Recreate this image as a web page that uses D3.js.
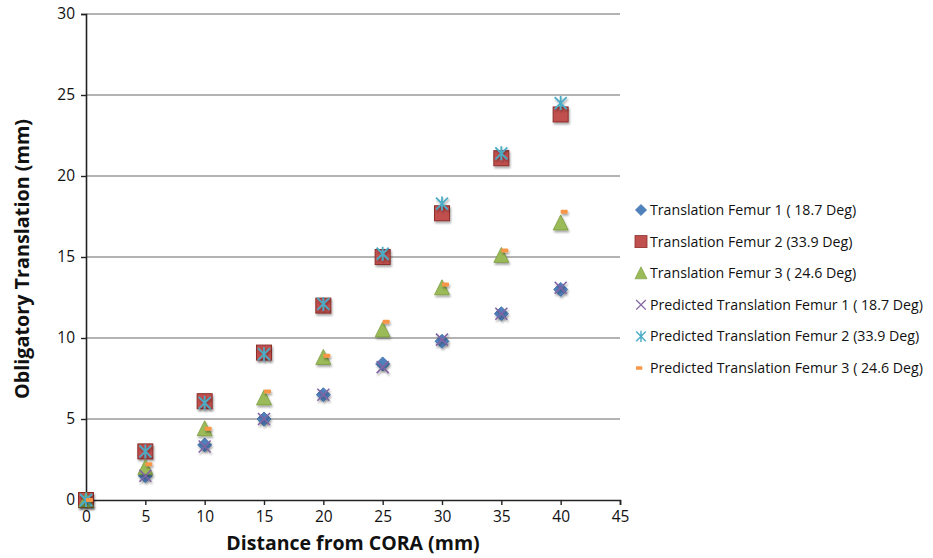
<!DOCTYPE html>
<html>
<head>
<meta charset="utf-8">
<script src="https://d3js.org/d3.v7.min.js"></script>
<style>
  body { margin: 0; background: #fff; }
  text { font-family: "Open Sans", "Liberation Sans", sans-serif; }
</style>
</head>
<body>
<svg id="vis"></svg>
<script>
  // distance from CORA (mm)
  var distances = [0, 5, 10, 15, 20, 25, 30, 35, 40];

  var femur1 = [0, 1.5, 3.4, 5.0, 6.5, 8.4, 9.8, 11.5, 13.0];
  var femur2 = [0, 3.0, 6.1, 9.1, 12.0, 15.0, 17.7, 21.1, 23.8];
  var femur3 = [0, 2.0, 4.4, 6.3, 8.8, 10.5, 13.1, 15.1, 17.1];
  var pred1 = [0, 1.5, 3.3, 5.0, 6.5, 8.2, 9.9, 11.5, 13.1];
  var pred2 = [0, 3.0, 6.0, 9.0, 12.1, 15.2, 18.3, 21.4, 24.5];
  var pred3 = [0, 2.2, 4.4, 6.7, 8.9, 11.0, 13.3, 15.4, 17.8];

  var seriesNames = [
    'Translation Femur 1 ( 18.7 Deg)',
    'Translation Femur 2 (33.9 Deg)',
    'Translation Femur 3 ( 24.6 Deg)',
    'Predicted Translation Femur 1 ( 18.7 Deg)',
    'Predicted Translation Femur 2 (33.9 Deg)',
    'Predicted Translation Femur 3 ( 24.6 Deg)'
  ];
  var seriesValues = [femur1, femur2, femur3, pred1, pred2, pred3];

  var xTicks = [0, 5, 10, 15, 20, 25, 30, 35, 40, 45];
  var yTicks = [0, 5, 10, 15, 20, 25, 30];

  var W = 933, H = 558;
  var svg = d3.select('#vis').attr('width', W).attr('height', H);

  var xScale = d3.scaleLinear().domain([0, 45]).range([86, 620]);
  var yScale = d3.scaleLinear().domain([0, 30]).range([500, 14]);

  var shadow = svg.append('defs').append('filter')
      .attr('id', 'shadow').attr('x', '-50%').attr('y', '-50%')
      .attr('width', '200%').attr('height', '200%');
  shadow.append('feDropShadow')
      .attr('dx', 1).attr('dy', 2).attr('stdDeviation', 1.2)
      .attr('flood-color', '#000').attr('flood-opacity', 0.35);

  // gridlines
  svg.append('g')
      .selectAll('line')
      .data(yTicks.filter(function(d) { return d > 0; }))
      .enter().append('line')
      .attr('x1', xScale(0)).attr('x2', xScale(45))
      .attr('y1', function(d) { return yScale(d); })
      .attr('y2', function(d) { return yScale(d); })
      .attr('stroke', '#9a9a9a').attr('stroke-width', 1.3);

  // axes
  var yAxis = svg.append('g')
      .attr('transform', 'translate(' + xScale(0) + ',0)')
      .call(d3.axisLeft(yScale).tickValues(yTicks).tickSize(5).tickPadding(6));
  var xAxis = svg.append('g')
      .attr('transform', 'translate(0,' + yScale(0) + ')')
      .call(d3.axisBottom(xScale).tickValues(xTicks).tickSize(5).tickPadding(6));

  [xAxis, yAxis].forEach(function(ax) {
    ax.select('.domain').attr('stroke', '#222').attr('stroke-width', 1.6);
    ax.selectAll('.tick line').attr('stroke', '#222').attr('stroke-width', 1.4);
    ax.selectAll('.tick text').attr('font-size', 15.5).attr('fill', '#111')
      .style('font-family', '"Open Sans", sans-serif');
  });

  // marker shapes
  var colors = ['#4f81bd', '#c0504d', '#9bbb59', '#8064a2', '#4bacc6', '#f79646'];
  var strokes = ['#3a6aa3', '#8c2f2c', '#7a9a3e', '#8064a2', '#4bacc6', '#f79646'];

  function drawMarker(g, i) {
    var c = colors[i], s = strokes[i];
    if (i === 0) {
      g.append('path').attr('d', 'M0,-7L7,0L0,7L-7,0Z')
        .attr('fill', c).attr('stroke', s).attr('stroke-width', 0.8);
    } else if (i === 1) {
      g.append('rect').attr('x', -7.5).attr('y', -7.5).attr('width', 15).attr('height', 15)
        .attr('fill', c).attr('stroke', s).attr('stroke-width', 1);
    } else if (i === 2) {
      g.append('path').attr('d', 'M0,-8L7.5,7L-7.5,7Z')
        .attr('fill', c).attr('stroke', s).attr('stroke-width', 0.8);
    } else if (i === 3) {
      g.append('path').attr('d', 'M-6,-6L6,6M-6,6L6,-6')
        .attr('stroke', c).attr('stroke-width', 1.6).attr('fill', 'none');
    } else if (i === 4) {
      g.append('path').attr('d', 'M-6,-6L6,6M-6,6L6,-6M0,-7L0,7')
        .attr('stroke', c).attr('stroke-width', 1.8).attr('fill', 'none');
    } else {
      g.append('rect').attr('x', 0).attr('y', -2).attr('width', 7).attr('height', 4)
        .attr('rx', 1).attr('fill', c);
    }
  }

  // points
  var points = svg.append('g');
  seriesValues.forEach(function(vals, i) {
    points.append('g')
      .attr('filter', 'url(#shadow)')
      .selectAll('g')
      .data(vals.map(function(v, j) { return { x: distances[j], y: v }; }))
      .enter().append('g')
      .attr('transform', function(d) { return 'translate(' + xScale(d.x) + ',' + yScale(d.y) + ')'; })
      .each(function() { drawMarker(d3.select(this), i); });
  });

  // legend
  var legend = svg.append('g').selectAll('g')
      .data(seriesNames)
      .enter().append('g')
      .attr('transform', function(d, i) { return 'translate(641,' + (210 + i * 31.6) + ')'; });
  legend.each(function(d, i) {
    var m = d3.select(this).append('g').attr('transform', i === 5 ? 'translate(-5,0) scale(0.9)' : 'scale(0.8)');
    drawMarker(m, i);
  });
  legend.append('text')
      .attr('x', 9).attr('y', 5)
      .attr('font-size', 14.2).attr('fill', '#111')
      .text(function(d) { return d; });

  // axis titles
  svg.append('text')
      .attr('x', 353).attr('y', 550)
      .attr('text-anchor', 'middle')
      .attr('font-size', 19.5).attr('font-weight', 'bold').attr('fill', '#111')
      .text('Distance from CORA (mm)');
  svg.append('text')
      .attr('transform', 'translate(29,259) rotate(-90)')
      .attr('text-anchor', 'middle')
      .attr('font-size', 19.8).attr('font-weight', 'bold').attr('fill', '#111')
      .text('Obligatory Translation (mm)');
</script>
</body>
</html>
